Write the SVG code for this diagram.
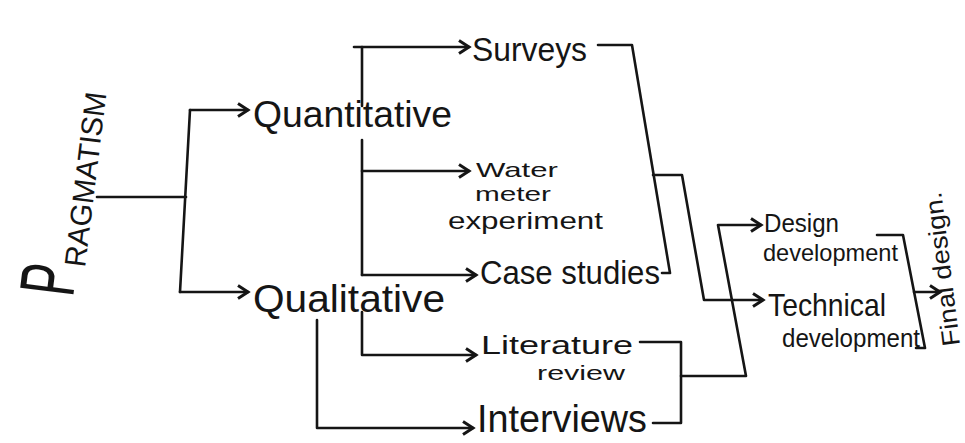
<svg xmlns="http://www.w3.org/2000/svg" width="965" height="443" viewBox="0 0 965 443">
  <style>
    .t { font-family: "Liberation Sans", "DejaVu Sans", sans-serif; fill: #151515; }
    .c { fill: none; stroke: #151515; stroke-width: 2.6; stroke-linecap: round; stroke-linejoin: round; }
  </style>
  <defs>
    <marker id="ah" markerUnits="userSpaceOnUse" markerWidth="18" markerHeight="18" refX="13" refY="8" orient="auto">
      <path d="M3,1.5 L13,8 L3,14.5" fill="none" stroke="#151515" stroke-width="3" stroke-linejoin="miter"/>
    </marker>
  </defs>
  <rect width="965" height="443" fill="#ffffff"/>

  <g id="connectors">
    <path class="c" d="M97,197 H186"/>
    <path class="c" d="M190,110 L180,292"/>
    <path class="c" d="M190,110 H248" marker-end="url(#ah)"/>
    <path class="c" d="M180,292 H248" marker-end="url(#ah)"/>
    <path class="c" d="M362,47 V106"/>
    <path class="c" d="M362,140 V275"/>
    <path class="c" d="M354,47 H469" marker-end="url(#ah)"/>
    <path class="c" d="M362,171 H469" marker-end="url(#ah)"/>
    <path class="c" d="M362,275 H476" marker-end="url(#ah)"/>
    <path class="c" d="M362,312 V355 H476" marker-end="url(#ah)"/>
    <path class="c" d="M317,320 V428 H473" marker-end="url(#ah)"/>
    <path class="c" d="M598,45 H632 L670,273 H662"/>
    <path class="c" d="M653,175 H682 L704,300 H763" marker-end="url(#ah)"/>
    <path class="c" d="M640,342 H681 V423 H653"/>
    <path class="c" d="M681,376 H746 L718,225 H761" marker-end="url(#ah)"/>
    <path class="c" d="M877,235 H903 L925,348 H916"/>
    <path class="c" d="M914,292 H940" marker-end="url(#ah)"/>
  </g>

  <g id="pragmatism">
    <text class="t" font-size="78" textLength="31" lengthAdjust="spacingAndGlyphs" transform="translate(73,298) rotate(-83)">P</text>
    <text class="t" font-size="30" textLength="176" lengthAdjust="spacingAndGlyphs" transform="translate(85,268) rotate(-83)">RAGMATISM</text>
  </g>
  <g id="quantitative">
    <text class="t" x="253" y="127" font-size="36" textLength="199" lengthAdjust="spacingAndGlyphs">Quantitative</text>
  </g>
  <g id="qualitative">
    <text class="t" x="253" y="312" font-size="38" textLength="192" lengthAdjust="spacingAndGlyphs">Qualitative</text>
  </g>
  <g id="surveys">
    <text class="t" x="472" y="61" font-size="34" textLength="115" lengthAdjust="spacingAndGlyphs">Surveys</text>
  </g>
  <g id="water-meter-experiment">
    <text class="t" x="476" y="177" font-size="21" textLength="82" lengthAdjust="spacingAndGlyphs">Water</text>
    <text class="t" x="475" y="201" font-size="21" textLength="76" lengthAdjust="spacingAndGlyphs">meter</text>
    <text class="t" x="448" y="229" font-size="24" textLength="155" lengthAdjust="spacingAndGlyphs">experiment</text>
  </g>
  <g id="case-studies">
    <text class="t" x="480" y="284" font-size="34" textLength="180" lengthAdjust="spacingAndGlyphs">Case studies</text>
  </g>
  <g id="literature-review">
    <text class="t" x="481" y="354" font-size="26" textLength="152" lengthAdjust="spacingAndGlyphs">Literature</text>
    <text class="t" x="537" y="380" font-size="21" textLength="88" lengthAdjust="spacingAndGlyphs">review</text>
  </g>
  <g id="interviews">
    <text class="t" x="477" y="432" font-size="38" textLength="170" lengthAdjust="spacingAndGlyphs">Interviews</text>
  </g>
  <g id="design-development">
    <text class="t" x="764" y="232" font-size="26" textLength="75" lengthAdjust="spacingAndGlyphs">Design</text>
    <text class="t" x="763" y="261" font-size="24" textLength="135" lengthAdjust="spacingAndGlyphs">development</text>
  </g>
  <g id="technical-development">
    <text class="t" x="768" y="316" font-size="32" textLength="118" lengthAdjust="spacingAndGlyphs">Technical</text>
    <text class="t" x="782" y="347" font-size="26" textLength="138" lengthAdjust="spacingAndGlyphs">development</text>
  </g>
  <g id="final-design">
    <text class="t" font-size="25" textLength="155" lengthAdjust="spacingAndGlyphs" transform="translate(960,345) rotate(-97)">Final design.</text>
  </g>
</svg>
